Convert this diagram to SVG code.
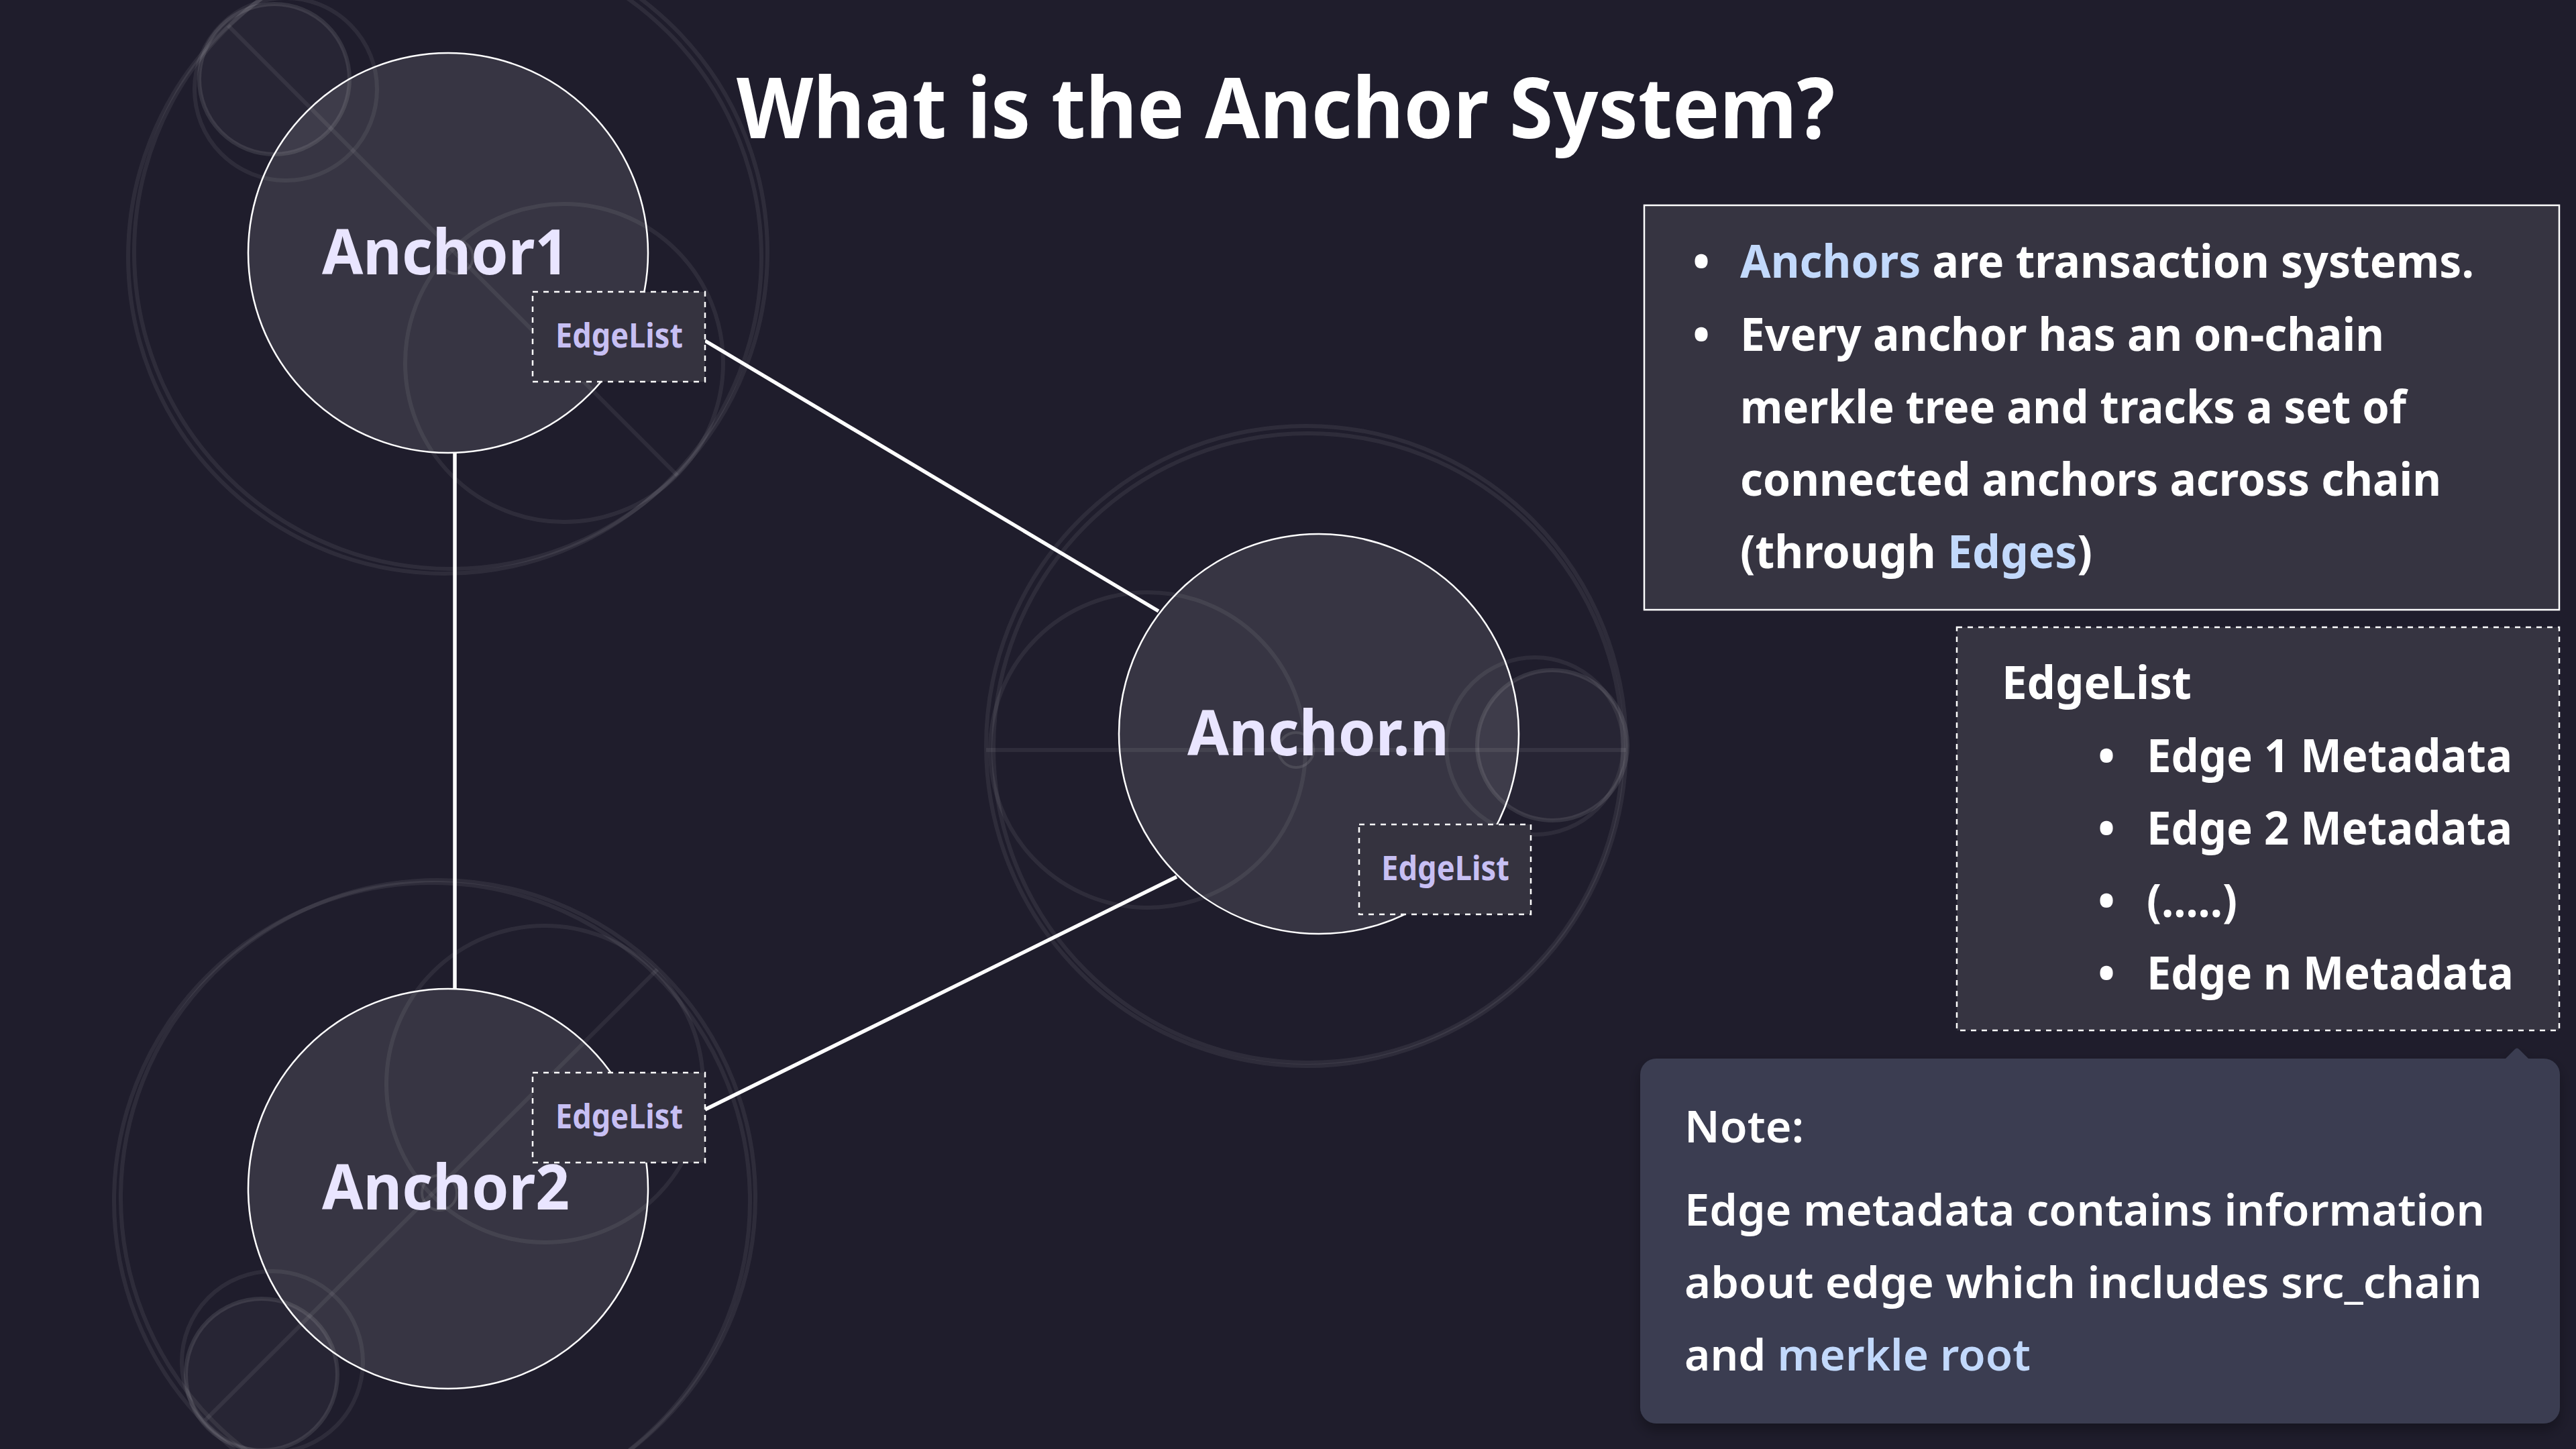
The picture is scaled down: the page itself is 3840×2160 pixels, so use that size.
<svg xmlns="http://www.w3.org/2000/svg" width="3840" height="2160" viewBox="0 0 3840 2160">
<defs>
<style>
.bg{fill:#1f1d2c}
.deco{fill:none;stroke:#ffffff;stroke-opacity:0.07;stroke-width:6}
.decoSmall{fill:#ffffff;fill-opacity:0.04;stroke:#ffffff;stroke-opacity:0.1;stroke-width:6}
.ring{fill:none;stroke:#ffffff;stroke-opacity:0.1;stroke-width:4}
.anchor{fill:#ffffff;fill-opacity:0.11;stroke:#ffffff;stroke-width:2.5}
.anchorLabel{font-family:"Noto Sans","Open Sans","Liberation Sans",sans-serif;font-weight:700;font-size:94px;fill:#e9e5ff}
.elBox{fill:#35333f;stroke:#ffffff;stroke-width:2.5;stroke-dasharray:8 8}
.elLabel{font-family:"Noto Sans","Open Sans","Liberation Sans",sans-serif;font-weight:700;font-size:50px;fill:#c7bff3}
.conn{stroke:#ffffff;stroke-width:5.5;fill:none}
.title{font-family:"Noto Sans","Open Sans","Liberation Sans",sans-serif;font-weight:700;font-size:126px;fill:#ffffff}
.panel{fill:#363441;stroke:#ffffff;stroke-width:2.5}
.panelDash{fill:#363441;stroke:#ffffff;stroke-width:2.5;stroke-dasharray:8 8}
.body{font-family:"Noto Sans","Open Sans","Liberation Sans",sans-serif;font-weight:700;font-size:68px;fill:#ffffff}
.note{fill:#3a3d51}
.noteText{font-family:"Noto Sans","Open Sans","Liberation Sans",sans-serif;font-weight:600;font-size:65px;fill:#ffffff}
.hl{fill:#c2d9fc}
</style>
<filter id="shadow" x="-5%" y="-5%" width="110%" height="120%">
<feDropShadow dx="0" dy="10" stdDeviation="10" flood-color="#000000" flood-opacity="0.3"/>
</filter>
</defs>
<rect class="bg" x="0" y="0" width="3840" height="2160"/>

<g id="background-decor">
<circle class="deco" cx="663" cy="383" r="472"/>
<circle class="deco" cx="672" cy="376" r="472"/>
<circle class="deco" cx="841" cy="541" r="237"/>
<circle class="deco" cx="426" cy="133" r="136"/>
<circle class="decoSmall" cx="409" cy="118" r="112"/>
<line class="deco" x1="340" y1="38" x2="1010" y2="709"/>
<circle class="ring" cx="680" cy="383" r="25"/>

<circle class="deco" cx="644" cy="1790" r="474"/>
<circle class="deco" cx="653" cy="1785" r="473"/>
<circle class="deco" cx="812" cy="1616" r="236"/>
<circle class="deco" cx="406" cy="2030" r="135"/>
<circle class="decoSmall" cx="390" cy="2049" r="113"/>
<line class="deco" x1="980" y1="1445" x2="306" y2="2117"/>
<circle class="ring" cx="655" cy="1778" r="26"/>

<circle class="deco" cx="1947" cy="1112" r="477"/>
<circle class="deco" cx="1950" cy="1115" r="469"/>
<circle class="deco" cx="1711" cy="1118" r="235"/>
<circle class="deco" cx="2288" cy="1112" r="132"/>
<circle class="decoSmall" cx="2314" cy="1111" r="112"/>
<line class="deco" x1="1470" y1="1118" x2="2424" y2="1118"/>
<circle class="ring" cx="1932" cy="1118" r="26"/>
</g>

<g id="connectors">
<line class="conn" x1="678" y1="675" x2="678" y2="1474"/>
<line class="conn" x1="1051" y1="508" x2="1727" y2="911"/>
<line class="conn" x1="1051" y1="1654" x2="1754" y2="1307"/>
</g>

<g id="anchor1">
<circle class="anchor" cx="668" cy="377" r="298"/>
<text class="anchorLabel" x="480" y="409" textLength="368" lengthAdjust="spacingAndGlyphs">Anchor1</text>
</g>
<g id="anchor1-edgelist">
<rect class="elBox" x="794" y="435" width="257" height="134"/>
<text class="elLabel" x="828" y="518" textLength="190" lengthAdjust="spacingAndGlyphs">EdgeList</text>
</g>

<g id="anchor2">
<circle class="anchor" cx="668" cy="1772" r="298"/>
<text class="anchorLabel" x="480" y="1803" textLength="369" lengthAdjust="spacingAndGlyphs">Anchor2</text>
</g>
<g id="anchor2-edgelist">
<rect class="elBox" x="794" y="1599" width="257" height="134"/>
<text class="elLabel" x="828" y="1682" textLength="190" lengthAdjust="spacingAndGlyphs">EdgeList</text>
</g>

<g id="anchorn">
<circle class="anchor" cx="1966" cy="1094" r="298"/>
<text class="anchorLabel" x="1770" y="1126" textLength="390" lengthAdjust="spacingAndGlyphs">Anchor.n</text>
</g>
<g id="anchorn-edgelist">
<rect class="elBox" x="2026" y="1229" width="256" height="134"/>
<text class="elLabel" x="2059" y="1312" textLength="191" lengthAdjust="spacingAndGlyphs">EdgeList</text>
</g>

<g id="title">
<text class="title" x="1098" y="206" textLength="1637" lengthAdjust="spacingAndGlyphs">What is the Anchor System?</text>
</g>

<g id="info-panel">
<rect class="panel" x="2451" y="306" width="1364" height="603"/>
<text class="body" x="2536" y="414" text-anchor="middle">•</text>
<text class="body" x="2594" y="414" textLength="1094" lengthAdjust="spacingAndGlyphs"><tspan class="hl">Anchors</tspan> are transaction systems.</text>
<text class="body" x="2536" y="523" text-anchor="middle">•</text>
<text class="body" x="2594" y="523" textLength="960" lengthAdjust="spacingAndGlyphs">Every anchor has an on-chain</text>
<text class="body" x="2594" y="631" textLength="993" lengthAdjust="spacingAndGlyphs">merkle tree and tracks a set of</text>
<text class="body" x="2594" y="739" textLength="1045" lengthAdjust="spacingAndGlyphs">connected anchors across chain</text>
<text class="body" x="2594" y="847" textLength="525" lengthAdjust="spacingAndGlyphs">(through <tspan class="hl">Edges</tspan>)</text>
</g>

<g id="edgelist-panel">
<rect class="panelDash" x="2917" y="935" width="898" height="601"/>
<text class="body" x="2984" y="1042" textLength="283" lengthAdjust="spacingAndGlyphs">EdgeList</text>
<text class="body" x="3140" y="1151" text-anchor="middle">•</text>
<text class="body" x="3200" y="1151" textLength="545" lengthAdjust="spacingAndGlyphs">Edge 1 Metadata</text>
<text class="body" x="3140" y="1259" text-anchor="middle">•</text>
<text class="body" x="3200" y="1259" textLength="545" lengthAdjust="spacingAndGlyphs">Edge 2 Metadata</text>
<text class="body" x="3140" y="1367" text-anchor="middle">•</text>
<text class="body" x="3200" y="1367" textLength="135" lengthAdjust="spacingAndGlyphs">(.....)</text>
<text class="body" x="3140" y="1475" text-anchor="middle">•</text>
<text class="body" x="3200" y="1475" textLength="547" lengthAdjust="spacingAndGlyphs">Edge n Metadata</text>
</g>

<g id="note-panel">
<g filter="url(#shadow)">
<rect class="note" x="2445" y="1578" width="1371" height="544" rx="24" ry="24"/>
<path class="note" d="M3734,1579 L3749,1564 Q3752,1561 3755,1564 L3770,1579 Z"/>
</g>
<text class="noteText" x="2511" y="1703" font-weight="700" textLength="178" lengthAdjust="spacingAndGlyphs">Note:</text>
<text class="noteText" x="2511" y="1827" textLength="1193" lengthAdjust="spacingAndGlyphs">Edge metadata contains information</text>
<text class="noteText" x="2511" y="1935" textLength="1189" lengthAdjust="spacingAndGlyphs">about edge which includes src_chain</text>
<text class="noteText" x="2511" y="2043" textLength="516" lengthAdjust="spacingAndGlyphs">and <tspan class="hl">merkle root</tspan></text>
</g>
</svg>
